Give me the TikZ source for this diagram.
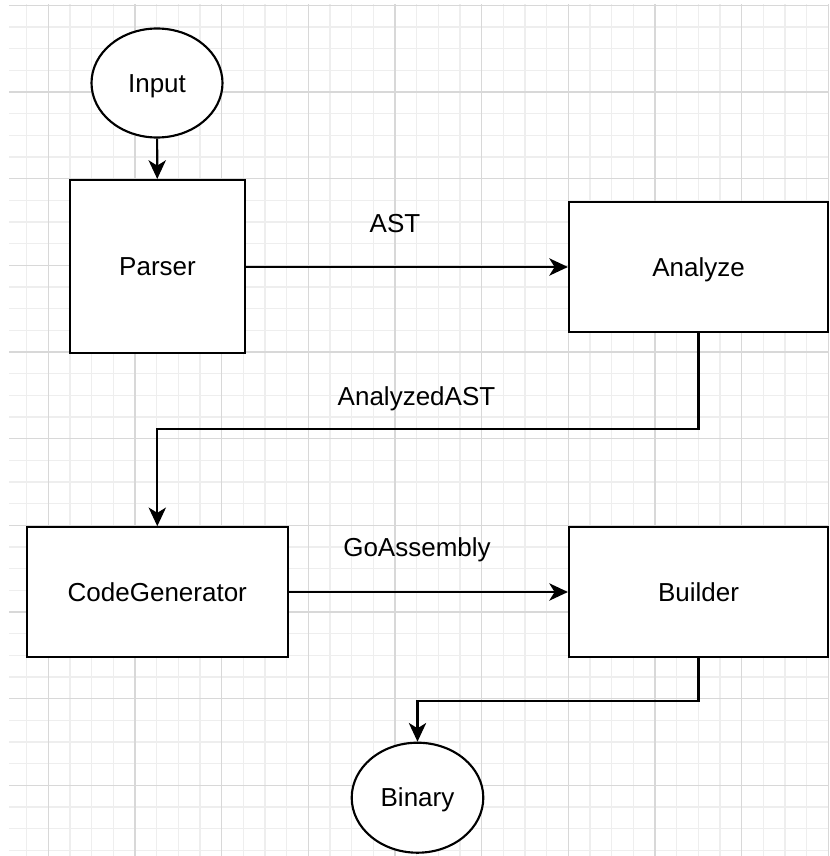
\documentclass[tikz,border=0pt]{standalone}
\usepackage{fontspec}
\setmainfont{Liberation Sans}
\usetikzlibrary{shapes.geometric,arrows.meta}
\definecolor{gridminor}{HTML}{EEEEEE}
\definecolor{gridmajor}{HTML}{D8D8D8}
\tikzset{
  px/.style={x=0.75pt,y=-0.75pt},
  box/.style={draw=black,line width=1.6pt,fill=white,rectangle,inner sep=0pt,
    font=\fontsize{19.5}{23}\selectfont,text height=13.6pt,text depth=0pt},
  oval/.style={draw=black,line width=1.6pt,fill=white,ellipse,inner sep=0pt,
    font=\fontsize{19.5}{23}\selectfont,text height=13.6pt,text depth=0pt},
  lbl/.style={font=\fontsize{19.5}{23}\selectfont,inner sep=0pt,anchor=base},
  arr/.style={draw=black,line width=1.6pt,-{Stealth[length=14pt,width=13pt,inset=4pt]}},
  minorline/.style={draw=gridminor,line width=1pt},
  majorline/.style={draw=gridmajor,line width=1pt},
}
\begin{document}
\begin{tikzpicture}[px]
\useasboundingbox (0,0) rectangle (829,856);
\fill[white] (0,0) rectangle (829,856);
% grid
\begin{scope}
\clip (9,5) rectangle (829,856);
\foreach \k in {-1,...,36} {
  \draw[minorline] ({48.33+21.667*\k},0) -- ({48.33+21.667*\k},856);
}
\foreach \k in {0,...,39} {
  \draw[minorline] (0,{5.33+21.667*\k}) -- (829,{5.33+21.667*\k});
}
\foreach \k in {0,...,9} {
  \draw[majorline] ({48.33+86.667*\k},0) -- ({48.33+86.667*\k},856);
  \draw[majorline] (0,{5.33+86.667*\k}) -- (829,{5.33+86.667*\k});
}
\end{scope}
% nodes
\node[oval,minimum width=98.25pt,minimum height=81.75pt] (input) at (157,83) {Input};
\node[box,minimum width=131.25pt,minimum height=129.75pt] (parser) at (157.5,266.5) {Parser};
\node[box,minimum width=194.25pt,minimum height=97.5pt] (analyze) at (698.5,267) {Analyze};
\node[box,minimum width=195.75pt,minimum height=97.1pt] (codegen) at (157.3,592) {CodeGenerator};
\node[box,minimum width=194.25pt,minimum height=97.1pt] (builder) at (698.5,592) {Builder};
\node[oval,minimum width=98.7pt,minimum height=82.5pt] (binary) at (417.5,797.7) {Binary};
% labels
\node[lbl] (astlbl) at (395,232.7) {AST};
\node[lbl] (analyzedlbl) at (416.5,405) {AnalyzedAST};
\node[lbl] (golbl) at (417,556.5) {GoAssembly};
% bends
\coordinate (bend1) at (157.3,429.3);
\coordinate (bend2) at (417.5,700.7);
% connectors
\draw[arr] (input) -- (parser);
\draw[arr] (parser.east |- analyze.west) -- (analyze.west);
\draw[arr] (analyze.south) |- (bend1) -- (codegen.north);
\draw[arr] (codegen) -- (builder);
\draw[arr] (builder.south) |- (bend2) -- (binary.north);
\end{tikzpicture}
\end{document}
